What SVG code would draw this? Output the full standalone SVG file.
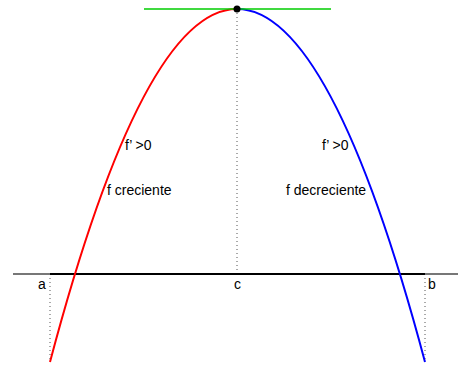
<svg xmlns="http://www.w3.org/2000/svg" width="458" height="365" viewBox="0 0 458 365">
<style>
text{font-family:"Liberation Sans",Arial,sans-serif;font-size:14px;fill:#000}
.dot{stroke:#555;stroke-width:1;stroke-dasharray:1,3;fill:none}
</style>
<rect width="458" height="365" fill="#fff"/>
<g id="connectors">
<line class="dot" x1="237" y1="9" x2="237" y2="274"/>
<line class="dot" x1="50" y1="274" x2="50" y2="362"/>
<line class="dot" x1="425" y1="274" x2="425" y2="362"/>
<line x1="13" y1="274" x2="50" y2="274" stroke="#777" stroke-width="2"/>
<line x1="425" y1="274" x2="458" y2="274" stroke="#777" stroke-width="2"/>
<line x1="50" y1="274" x2="425" y2="274" stroke="#000" stroke-width="2"/>
</g>
<g id="curve-left"><path d="M50,362 Q143.5,9 237,9" fill="none" stroke="#f00" stroke-width="2"/></g>
<g id="curve-right"><path d="M237,9 Q331,9 425,362" fill="none" stroke="#00f" stroke-width="2"/></g>
<g id="tangent"><line x1="144" y1="9" x2="331" y2="9" stroke="#0c0" stroke-width="1.5"/></g>
<g id="vertex"><circle cx="237" cy="9" r="3.5" fill="#000"/></g>
<g id="labels">
<text x="125" y="150">f’ &gt;0</text>
<text x="107" y="195">f creciente</text>
<text x="322" y="150">f’ &gt;0</text>
<text x="286" y="195">f decreciente</text>
<text x="38" y="289">a</text>
<text x="234" y="289">c</text>
<text x="428" y="289">b</text>
</g>
</svg>
